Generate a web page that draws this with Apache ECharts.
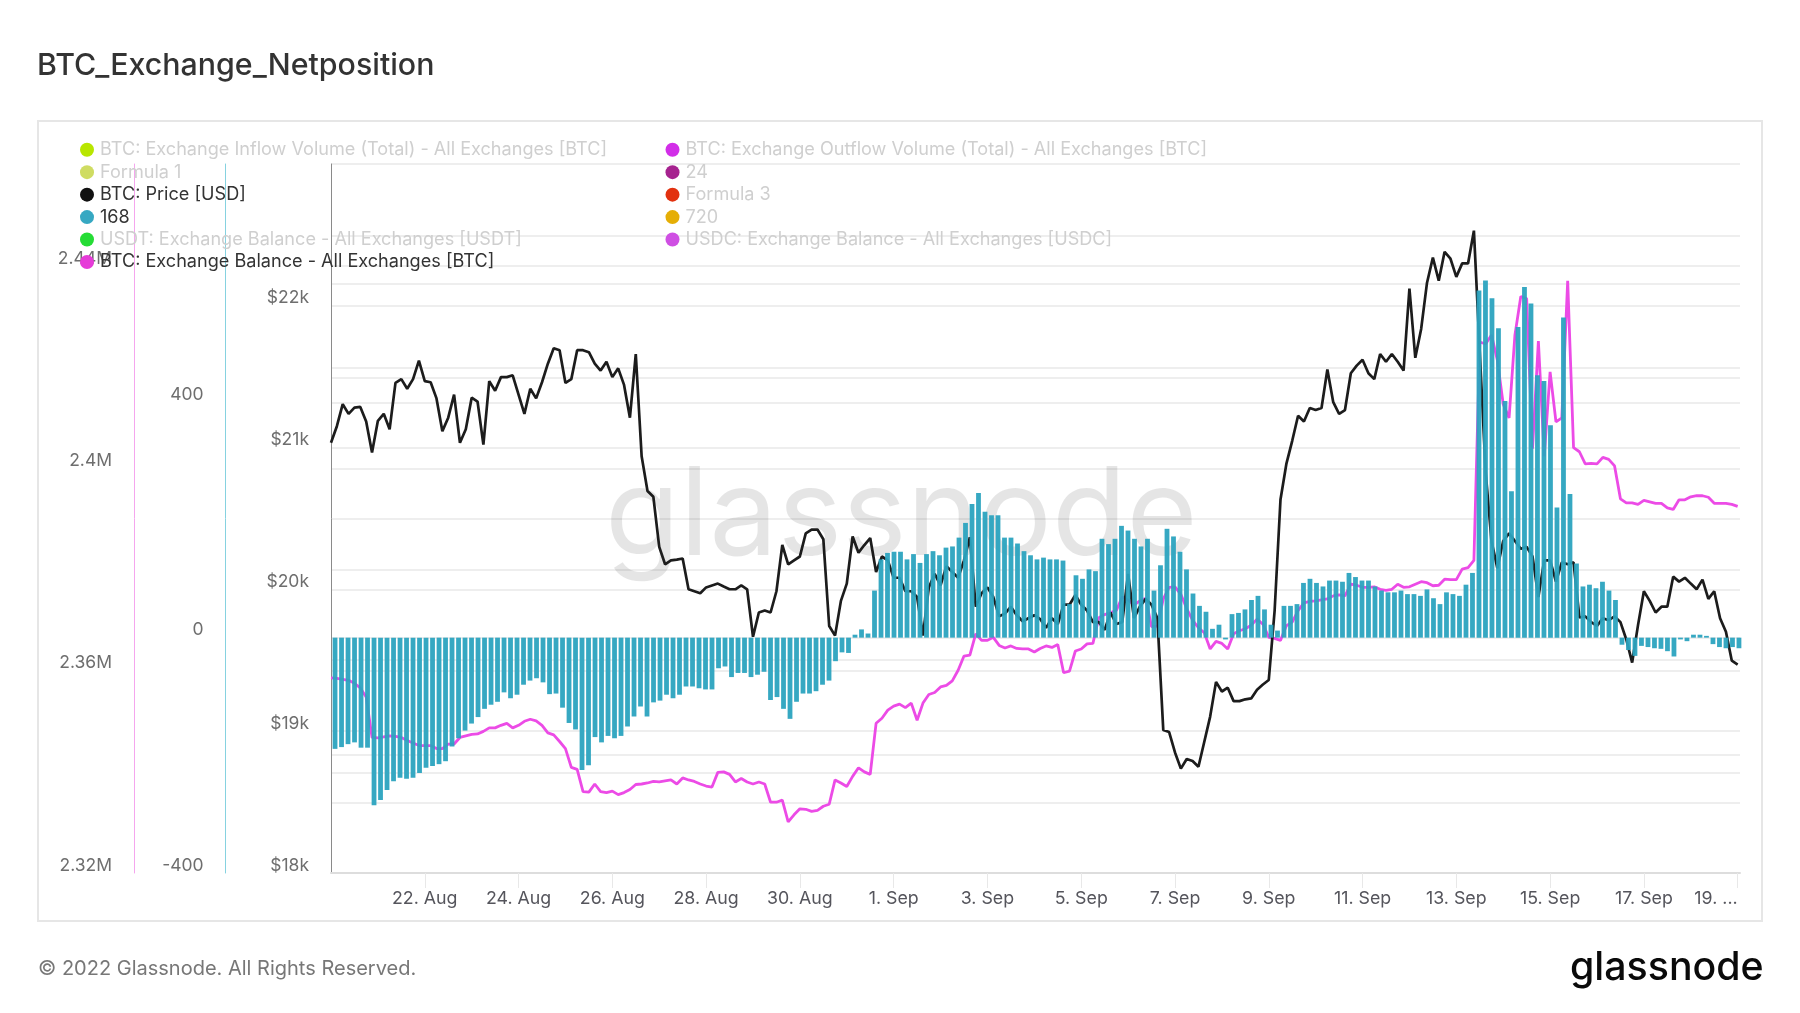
<!DOCTYPE html>
<html>
<head>
<meta charset="utf-8">
<title>BTC_Exchange_Netposition</title>
<script src="https://cdn.jsdelivr.net/npm/echarts@6/dist/echarts.min.js"></script>
<style>
html, body {margin: 0; padding: 0; background: #fff;}
#chart {width: 1800px; height: 1013px;}
</style>
</head>
<body>
<div id="chart"></div>
<script>
// x axis counts days from 20 Aug 2022
var dayTicks = [2, 4, 6, 8, 10, 12, 14, 16, 18, 20, 22, 24, 26, 28, 30];
var dayLabels = ['22. Aug', '24. Aug', '26. Aug', '28. Aug', '30. Aug', '1. Sep', '3. Sep', '5. Sep',
    '7. Sep', '9. Sep', '11. Sep', '13. Sep', '15. Sep', '17. Sep', '19. ...'];

var lineStepDays = 0.125; // line samples every 3 hours
var barStepDays = 0.13862;
var barFirstDay = 0.086;

// BTC: Price [USD]
var priceValues = [
    21034, 21151, 21306, 21238, 21282, 21287, 21184, 20966, 21189, 21238, 21129, 21456, 21483, 21415, 21483, 21614,
    21469, 21461, 21347, 21116, 21211, 21374, 21034, 21129, 21352, 21325, 21021, 21469, 21401, 21497, 21497, 21510,
    21374, 21238, 21415, 21347, 21461, 21592, 21701, 21687, 21456, 21483, 21687, 21687, 21673, 21592, 21543, 21605,
    21497, 21559, 21442, 21211, 21660, 20939, 20694, 20653, 20300, 20177, 20205, 20210, 20218, 20001, 19987, 19973,
    20014, 20028, 20041, 20020, 20001, 20001, 20028, 20001, 19666, 19837, 19851, 19837, 19987, 20313, 20177, 20205,
    20232, 20395, 20422, 20422, 20354, 19742, 19674, 19919, 20041, 20373, 20259, 20313, 20362, 20123, 20232, 20205,
    20082, 20082, 19987, 19987, 19946, 19674, 20014, 20110, 20028, 20164, 20123, 20082, 20205, 20368, 19878, 19973,
    20014, 19946, 19810, 19829, 19878, 19818, 19775, 19797, 19818, 19791, 19729, 19797, 19756, 19892, 19892, 19960,
    19892, 19851, 19769, 19769, 19715, 19837, 19756, 19769, 20110, 19797, 19878, 19933, 19892, 19797, 19008, 18994,
    18850, 18736, 18804, 18790, 18749, 18926, 19103, 19348, 19280, 19307, 19212, 19212, 19225, 19231, 19293, 19329,
    19361, 19851, 20634, 20885, 21048, 21225, 21184, 21279, 21265, 21279, 21551, 21320, 21238, 21265, 21524, 21578,
    21619, 21524, 21483, 21660, 21605, 21660, 21605, 21543, 22122, 21633, 21837, 22163, 22340, 22177, 22381, 22332,
    22204, 22299, 22299, 22530, 21673, 20830, 20341, 20150, 20341, 20395, 20341, 20286, 20300, 20232, 19946, 20205,
    20205, 20055, 20191, 20177, 20191, 19802, 19810, 19769, 19742, 19797, 19783, 19810, 19769, 19647, 19484, 19748,
    19987, 19919, 19837, 19878, 19878, 20090, 20055, 20082, 20041, 20001, 20069, 19933, 19987, 19797, 19701, 19497,
    19470
];

// BTC: Exchange Balance, thousands of BTC
var balanceValues = [
    2358.6, 2358.5, 2358.3, 2358.1, 2357.5, 2356.6, 2354.8, 2346.8, 2346.7, 2346.9, 2347.1, 2347.0, 2346.8, 2346.2, 2345.7, 2345.2,
    2345.2, 2345.2, 2344.6, 2344.6, 2345.5, 2345.5, 2346.8, 2347.1, 2347.4, 2347.5, 2348.0, 2348.7, 2348.7, 2349.2, 2349.6, 2348.7,
    2349.2, 2350.0, 2350.4, 2350.1, 2349.2, 2347.7, 2347.3, 2346.0, 2344.6, 2340.9, 2340.5, 2336.1, 2336.0, 2337.6, 2336.1, 2335.9,
    2336.2, 2335.5, 2335.9, 2336.5, 2337.5, 2337.6, 2337.8, 2338.1, 2338.0, 2338.2, 2338.4, 2337.6, 2338.8, 2338.4, 2338.1, 2337.6,
    2337.2, 2337.0, 2339.9, 2340.0, 2339.5, 2338.0, 2338.7, 2338.0, 2337.6, 2338.0, 2337.6, 2334.0, 2334.0, 2334.4, 2330.1, 2331.5,
    2332.7, 2332.6, 2332.2, 2332.4, 2333.2, 2333.6, 2338.4, 2337.8, 2337.1, 2339.1, 2340.8, 2340.0, 2339.5, 2349.6, 2350.6, 2352.2,
    2353.0, 2353.4, 2352.7, 2353.6, 2350.2, 2353.6, 2355.3, 2355.7, 2356.8, 2357.1, 2358.0, 2360.1, 2362.9, 2363.1, 2367.3, 2366.0,
    2366.0, 2366.6, 2365.0, 2364.5, 2364.9, 2364.4, 2364.3, 2364.3, 2363.7, 2364.4, 2364.9, 2364.6, 2365.2, 2359.6, 2359.9, 2363.9,
    2364.3, 2365.3, 2365.4, 2370.5, 2371.1, 2371.5, 2371.9, 2374.6, 2374.0, 2373.0, 2373.8, 2374.3, 2368.7, 2368.8, 2374.2, 2376.5,
    2376.6, 2375.1, 2372.3, 2370.0, 2368.5, 2367.5, 2364.3, 2365.8, 2365.4, 2364.3, 2367.3, 2367.9, 2368.3, 2369.0, 2370.2, 2369.2,
    2366.6, 2366.4, 2366.0, 2368.9, 2369.6, 2371.9, 2373.4, 2373.7, 2373.8, 2374.0, 2374.2, 2374.8, 2375.0, 2374.8, 2377.1, 2376.9,
    2376.5, 2376.5, 2376.6, 2376.1, 2375.9, 2376.1, 2377.1, 2376.5, 2376.6, 2377.1, 2377.6, 2377.4, 2376.8, 2376.9, 2378.1, 2378.0,
    2378.0, 2380.1, 2380.4, 2381.8, 2425.0, 2424.6, 2426.4, 2421.4, 2412.7, 2410.0, 2426.4, 2434.0, 2433.6, 2403.9, 2425.2, 2402.4,
    2419.1, 2409.2, 2410.0, 2437.1, 2404.1, 2403.3, 2400.9, 2401.0, 2400.9, 2402.2, 2401.8, 2400.5, 2394.0, 2393.2, 2393.2, 2392.9,
    2393.7, 2393.4, 2393.1, 2393.1, 2392.2, 2391.9, 2393.8, 2393.8, 2394.4, 2394.6, 2394.6, 2394.3, 2393.1, 2393.1, 2393.1, 2392.9,
    2392.5
];

// 168
var flowValues = [
    -189, -186, -181, -178, -187, -187, -285, -276, -259, -244, -238, -240, -238, -230, -221, -218,
    -215, -210, -185, -171, -158, -146, -135, -121, -114, -109, -93, -103, -97, -80, -73, -69,
    -76, -96, -95, -119, -145, -156, -225, -217, -169, -178, -167, -171, -167, -151, -134, -117,
    -134, -110, -107, -97, -103, -97, -83, -83, -86, -88, -88, -52, -49, -67, -60, -60,
    -67, -63, -58, -106, -101, -121, -138, -109, -95, -95, -91, -80, -73, -40, -25, -26,
    5, 14, 7, 80, 133, 144, 146, 146, 133, 142, 127, 142, 147, 140, 153, 155,
    170, 195, 227, 246, 214, 208, 208, 170, 170, 160, 147, 140, 133, 136, 133, 133,
    131, 57, 106, 100, 116, 113, 168, 159, 168, 190, 182, 168, 155, 168, 80, 123,
    185, 172, 146, 116, 75, 54, 44, 15, 22, -3, 40, 42, 48, 64, 71, 48,
    22, 12, 54, 54, 57, 93, 100, 93, 87, 97, 97, 95, 110, 103, 97, 97,
    87, 80, 77, 77, 80, 74, 74, 71, 82, 67, 57, 77, 74, 71, 90, 110,
    590, 607, 577, 526, 402, 249, 528, 596, 568, 446, 436, 361, 221, 544, 244, 126,
    87, 90, 84, 95, 80, 64, -12, -21, -31, -14, -16, -18, -19, -23, -32, -3,
    -6, 5, 5, 3, -11, -16, -18, -16, -18
];
var flowTicks = [-400, 0, 400];

// 图例，灰色的是隐藏序列
var legendLeft = ['BTC: Exchange Inflow Volume (Total) - All Exchanges [BTC]', 'Formula 1', 'BTC: Price [USD]',
    '168', 'USDT: Exchange Balance - All Exchanges [USDT]', 'BTC: Exchange Balance - All Exchanges [BTC]'];
var legendRight = ['BTC: Exchange Outflow Volume (Total) - All Exchanges [BTC]', '24', 'Formula 3',
    '720', 'USDC: Exchange Balance - All Exchanges [USDC]'];
var activeNames = ['BTC: Price [USD]', '168', 'BTC: Exchange Balance - All Exchanges [BTC]'];
var hiddenColors = {
    'BTC: Exchange Inflow Volume (Total) - All Exchanges [BTC]': '#b8e600',
    'Formula 1': '#cfdc62',
    'USDT: Exchange Balance - All Exchanges [USDT]': '#25dc35',
    'BTC: Exchange Outflow Volume (Total) - All Exchanges [BTC]': '#d22ee8',
    '24': '#a6228f',
    'Formula 3': '#e2310f',
    '720': '#e5ae05',
    'USDC: Exchange Balance - All Exchanges [USDC]': '#cf4fe3'
};

var FONT = 'Inter';

function legendData(names) {
    return names.map(function (name) {
        return {name: name, textStyle: {color: activeNames.indexOf(name) >= 0 ? '#333' : '#cfcfcf'}};
    });
}

function legendBox(left, names) {
    return {
        left: left,
        top: 140.5,
        orient: 'vertical',
        padding: 0,
        itemWidth: 14,
        itemHeight: 14,
        itemGap: 4,
        icon: 'circle',
        selectedMode: false,
        z: 10,
        textStyle: {fontFamily: FONT, fontSize: 18.1, lineHeight: 18.45, padding: [0, 0, 0, 1]},
        data: legendData(names)
    };
}

function onY(offset, min, max, interval, formatter, lineColor) {
    return {
        type: 'value',
        position: 'left',
        offset: offset,
        min: min,
        max: max,
        interval: interval,
        axisLine: {show: true, lineStyle: {color: lineColor, width: 1}},
        axisTick: {show: false},
        axisLabel: {
            showMaxLabel: false,
            margin: 22,
            color: '#6e6e6e',
            fontFamily: FONT,
            fontSize: 17.5,
            lineHeight: 15.5,
            verticalAlign: 'bottom',
            formatter: formatter
        },
        splitLine: {show: true, lineStyle: {color: '#eeeeee', width: 2}}
    };
}

var chart = echarts.init(document.getElementById('chart'));

var series = Object.keys(hiddenColors).map(function (name) {
    return {name: name, type: 'line', data: [], color: hiddenColors[name]};
});

series.push({
    name: 'BTC: Exchange Balance - All Exchanges [BTC]',
    type: 'line',
    color: '#e63bd8',
    xAxisIndex: 0,
    yAxisIndex: 2,
    symbol: 'none',
    z: 2,
    lineStyle: {color: '#ec4be6', width: 2.8},
    data: balanceValues.map(function (v, i) { return [i * lineStepDays, v]; })
});
series.push({
    name: 'BTC: Price [USD]',
    type: 'line',
    color: '#111111',
    xAxisIndex: 0,
    yAxisIndex: 0,
    symbol: 'none',
    z: 3,
    lineStyle: {color: '#1c1c1c', width: 2.7},
    data: priceValues.map(function (v, i) { return [i * lineStepDays, v]; })
});
series.push({
    name: '168',
    type: 'bar',
    color: '#2ba3bf',
    xAxisIndex: 0,
    yAxisIndex: 1,
    barWidth: 4.8,
    z: 4,
    itemStyle: {color: '#2ba3bf', opacity: 0.95},
    data: flowValues.map(function (v, i) { return [barFirstDay + i * barStepDays, v]; })
});

// flow axis: zero sits a little lower than a plain -400..800 range
var flowAxis = onY(105.4, -400, 805, 400, function (v) { return v; }, '#86d2e0');
flowAxis.axisTick.customValues = flowTicks;
flowAxis.axisLabel.customValues = flowTicks;
flowAxis.axisLabel.showMaxLabel = true;

var option = {
    animation: false,
    backgroundColor: '#fff',
    title: {
        text: 'BTC_Exchange_Netposition',
        left: 37,
        top: 51,
        padding: 0,
        textStyle: {fontFamily: FONT, fontSize: 30.35, fontWeight: 500, color: '#333'}
    },
    legend: [legendBox(80, legendLeft), legendBox(665.5, legendRight)],
    grid: {left: 331, top: 164, width: 1409, height: 709, containLabel: false},
    xAxis: {
        type: 'value',
        min: 0,
        max: 30.05,
        axisLine: {show: true, onZero: false, lineStyle: {color: '#dddddd', width: 2}},
        axisTick: {show: true, length: 15, customValues: dayTicks, lineStyle: {color: '#e8e8e8', width: 1}},
        axisLabel: {
            customValues: dayTicks,
            alignMaxLabel: 'right',
            margin: 17,
            color: '#55555c',
            fontFamily: FONT,
            fontSize: 17.8,
            formatter: function (v) {
                return dayLabels[dayTicks.indexOf(v)] || '';
            }
        },
        splitLine: {show: false}
    },
    yAxis: [
        onY(0, 18000, 23000, 1000, function (v) { return '$' + v / 1000 + 'k'; }, '#8a8a8a'),
        flowAxis,
        onY(197, 2320, 2460.2, 40, function (v) { return v / 1000 + 'M'; }, '#f5a6ee'),
        // 隐藏序列留下的网格线
        {
            type: 'value',
            position: 'left',
            min: 0,
            max: 709,
            axisLine: {show: false},
            axisTick: {show: false, customValues: [637, 589, 505, 495, 354, 303, 213, 118, 100, 70]},
            axisLabel: {show: false},
            splitLine: {show: true, lineStyle: {color: '#eeeeee', width: 2}}
        }
    ],
    graphic: [
        {
            type: 'rect',
            z: -1,
            shape: {x: 38, y: 121, width: 1724, height: 800},
            style: {fill: 'none', stroke: '#e6e6e6', lineWidth: 2}
        },
        {
            type: 'text',
            z: 1,
            x: 605,
            y: 518,
            style: {
                text: 'glassnode',
                fill: 'rgba(0,0,0,0.1)',
                fontFamily: FONT,
                fontSize: 122,
                textVerticalAlign: 'middle'
            }
        },
        {
            type: 'text',
            x: 38,
            y: 969,
            style: {
                text: '\u00a9 2022 Glassnode. All Rights Reserved.',
                fill: '#777',
                fontFamily: FONT,
                fontSize: 20,
                textVerticalAlign: 'middle'
            }
        },
        {
            type: 'text',
            x: 1570,
            y: 968,
            style: {
                text: 'glassnode',
                fill: '#0a0a0a',
                fontFamily: FONT,
                fontSize: 39.3,
                fontWeight: 500,
                textVerticalAlign: 'middle'
            }
        }
    ],
    series: series
};

chart.setOption(option);
</script>
</body>
</html>
